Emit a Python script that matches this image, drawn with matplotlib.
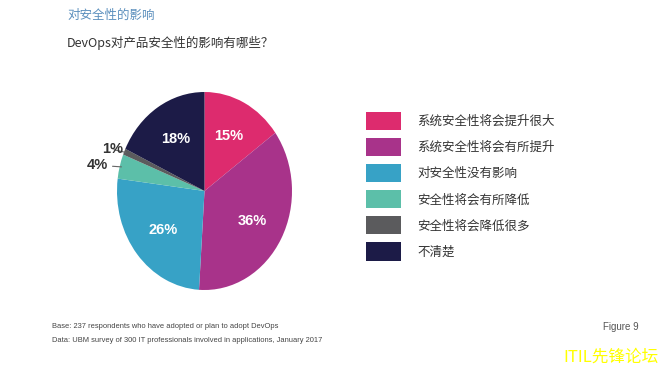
import matplotlib
matplotlib.use('Agg')
import matplotlib.pyplot as plt
import numpy as np
from matplotlib.font_manager import FontProperties
from matplotlib.patches import Patch

cjk = ['Noto Sans CJK SC', 'DejaVu Sans']
plt.rcParams['font.family'] = cjk

# data
labels = ['系统安全性将会提升很大', '系统安全性将会有所提升', '对安全性没有影响',
          '安全性将会有所降低', '安全性将会降低很多', '不清楚']
values = [15, 36, 26, 4, 1, 18]
colors = ['#dd2b6e', '#a8338a', '#37a2c6', '#5cbfa9', '#5b5b5d', '#1c1b47']
title = '对安全性的影响'
subtitle = 'DevOps对产品安全性的影响有哪些？'
notes = ['Base: 237 respondents who have adopted or plan to adopt DevOps',
         'Data: UBM survey of 300 IT professionals involved in applications, January 2017']

W, H = 662, 373
fig = plt.figure(figsize=(W / 100, H / 100), dpi=100)
fig.patch.set_facecolor('white')

# pie is a bit taller than wide in the original
ax = fig.add_axes([117 / W, (H - 290) / H, 175 / W, 198 / H])
wedges, _ = ax.pie(values, colors=colors, startangle=90, counterclock=False,
                   wedgeprops=dict(linewidth=0))
ax.set_aspect('auto')
ax.set_xlim(-1, 1)
ax.set_ylim(-1, 1)

lab_font = 'Liberation Sans'
for w, v in zip(wedges, values):
    ang = np.deg2rad((w.theta1 + w.theta2) / 2)
    x, y = np.cos(ang), np.sin(ang)
    if v >= 10:
        ax.text(0.62 * x, 0.62 * y, f'{v}%', ha='center', va='center',
                color='white', fontsize=10.5, fontweight='bold', family=lab_font)
    else:
        # small slices get an outside label with a leader line
        tx, ty = (-1.22, 0.26) if v == 4 else (-1.05, 0.42)
        ax.annotate(f'{v}%', xy=(0.98 * x, 0.98 * y), xytext=(tx, ty),
                    ha='center', va='center', fontsize=10.5, fontweight='bold',
                    color='#333333', family=lab_font,
                    arrowprops=dict(arrowstyle='-', color='#666666', lw=0.8,
                                    shrinkA=1, shrinkB=0))

# legend
handles = [Patch(facecolor=c, edgecolor='none') for c in colors]
fp = FontProperties(family=cjk, size=9)
fig.legend(handles, labels, loc='upper left', bbox_to_anchor=(366 / W, 1 - 112 / H),
           frameon=False, prop=fp, handlelength=2.8, handleheight=1.85,
           labelspacing=0.64, handletextpad=1.3, borderpad=0, borderaxespad=0,
           labelcolor='#333333')

# titles
fig.text(67 / W, 1 - 15 / H, title, fontsize=9, color='#5b8fbd', va='center')
fig.text(67 / W, 1 - 43 / H, subtitle, fontsize=9, color='#333333', va='center')

# footer
nf = ['Liberation Sans', 'DejaVu Sans']
fig.text(52 / W, 1 - 327 / H, notes[0], fontsize=5.4, color='#444444', va='center', family=nf)
fig.text(52 / W, 1 - 341 / H, notes[1], fontsize=5.4, color='#444444', va='center', family=nf)
fig.text(603 / W, 1 - 327 / H, 'Figure 9', fontsize=7, color='#555555', va='center', family=nf)
fig.text(563 / W, 1 - 357 / H, 'ITIL先锋论坛', fontsize=12, color='#ffff00', va='center')

fig.savefig('out.png', dpi=100)
